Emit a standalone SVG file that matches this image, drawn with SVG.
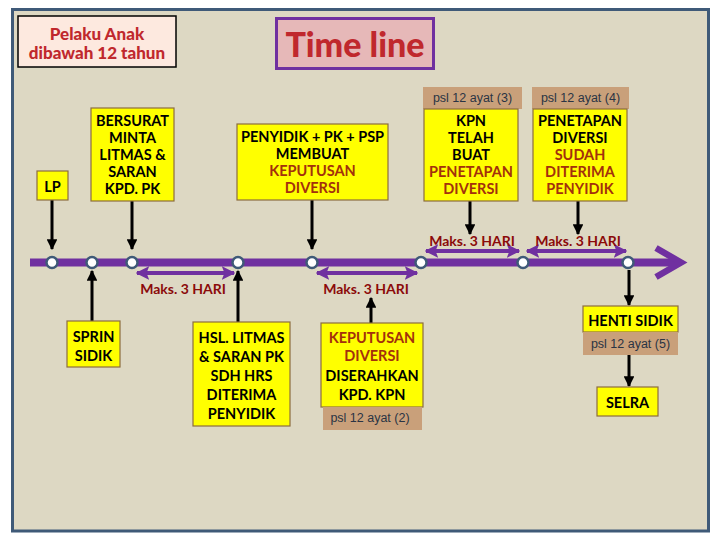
<svg xmlns="http://www.w3.org/2000/svg" width="720" height="540" viewBox="0 0 720 540">
<defs>
<style>
.box{fill:#ffff00;stroke:#8c6d3f;stroke-width:1.2}
.tan{fill:#c9a07a}
.t{font-family:Lato,"Liberation Sans",sans-serif;font-weight:bold;font-size:14.5px;text-anchor:middle;dominant-baseline:central;fill:#000}
.r{fill:#a3300c}
.psl{font-family:"Liberation Sans",Arial,sans-serif;font-size:12.5px;text-anchor:middle;dominant-baseline:central;fill:#2a3444}
.maks{font-family:Lato,"Liberation Sans",sans-serif;font-weight:bold;font-size:14px;text-anchor:middle;dominant-baseline:central;fill:#8b0a0a}
.blk{stroke:#000;stroke-width:3;fill:none;marker-end:url(#ah)}
.pur{stroke:#7030a0;stroke-width:4;fill:none;marker-start:url(#pa);marker-end:url(#pa)}
.dot{fill:#fff;stroke:#3f5a78;stroke-width:2.5}
.ttl{font-family:Lato,"Liberation Sans",sans-serif;font-weight:900;text-anchor:middle;fill:#c0282d}
</style>
<marker id="ah" viewBox="0 0 10 10" refX="9" refY="5" markerWidth="3.6" markerHeight="3.6" orient="auto" markerUnits="strokeWidth">
<path d="M0,0 L10,5 L0,10 z" fill="#000"/>
</marker>
<marker id="pa" viewBox="0 0 10 10" refX="9" refY="5" markerWidth="3.4" markerHeight="3.4" orient="auto-start-reverse" markerUnits="strokeWidth">
<path d="M0,0 L10,5 L0,10 L2,5 z" fill="#7030a0"/>
</marker>
</defs>
<rect x="0" y="0" width="720" height="540" fill="#fff"/>
<rect x="12.5" y="9.5" width="696" height="521.5" fill="#ddd8c3" stroke="#3f5a78" stroke-width="3"/>

<g id="title-pelaku">
<rect x="18" y="16" width="158" height="51" fill="#fde9df" stroke="#000" stroke-width="1.5"/>
<text class="ttl" x="97" y="40" font-size="17">Pelaku Anak</text>
<text class="ttl" x="97" y="59" font-size="17">dibawah 12 tahun</text>
</g>

<g id="title-timeline">
<rect x="276.5" y="18.5" width="157" height="50" fill="#e6b8b8" stroke="#7030a0" stroke-width="3"/>
<text class="ttl" x="355" y="57" font-size="34">Time line</text>
</g>

<g id="connectors">
<line x1="30" y1="262.5" x2="678" y2="262.5" stroke="#7030a0" stroke-width="8"/>
<polyline points="656,248 681,262.5 656,277" fill="none" stroke="#7030a0" stroke-width="6.5" stroke-linejoin="miter"/>
<line class="pur" x1="137" y1="273" x2="234" y2="273"/>
<line class="pur" x1="317" y1="273" x2="417" y2="273"/>
<line class="pur" x1="426" y1="251" x2="519" y2="251"/>
<line class="pur" x1="527" y1="251" x2="626" y2="251"/>
<line class="blk" x1="52" y1="200" x2="52" y2="249"/>
<line class="blk" x1="132" y1="201" x2="132" y2="249"/>
<line class="blk" x1="312" y1="200" x2="312" y2="249"/>
<line class="blk" x1="470" y1="201" x2="470" y2="234"/>
<line class="blk" x1="578" y1="201" x2="578" y2="234"/>
<line class="blk" x1="92" y1="321" x2="92" y2="271"/>
<line class="blk" x1="238" y1="322" x2="238" y2="271"/>
<line class="blk" x1="371" y1="323" x2="371" y2="298"/>
<line class="blk" x1="629" y1="270" x2="629" y2="305"/>
<line class="blk" x1="629" y1="355" x2="629" y2="386"/>
<circle class="dot" cx="52" cy="262.5" r="5.5"/>
<circle class="dot" cx="92" cy="262.5" r="5.5"/>
<circle class="dot" cx="132" cy="262.5" r="5.5"/>
<circle class="dot" cx="238" cy="262.5" r="5.5"/>
<circle class="dot" cx="312" cy="262.5" r="5.5"/>
<circle class="dot" cx="421" cy="262.5" r="5.5"/>
<circle class="dot" cx="523" cy="262.5" r="5.5"/>
<circle class="dot" cx="628" cy="262.5" r="5.5"/>
<text class="maks" x="183" y="288">Maks. 3 HARI</text>
<text class="maks" x="366" y="288">Maks. 3 HARI</text>
<text class="maks" x="472" y="240">Maks. 3 HARI</text>
<text class="maks" x="578" y="240">Maks. 3 HARI</text>
</g>

<g id="lp">
<rect class="box" x="37" y="171" width="31" height="29"/>
<text class="t" x="52.5" y="186">LP</text>
</g>

<g id="bersurat">
<rect class="box" x="91" y="108" width="83" height="93"/>
<text class="t" x="132.5" y="120">BERSURAT</text>
<text class="t" x="132.5" y="137">MINTA</text>
<text class="t" x="132.5" y="154">LITMAS &amp;</text>
<text class="t" x="132.5" y="171">SARAN</text>
<text class="t" x="132.5" y="188">KPD. PK</text>
</g>

<g id="penyidik-pk-psp">
<rect class="box" x="237" y="124" width="151" height="76"/>
<text class="t" x="312.5" y="136">PENYIDIK + PK + PSP</text>
<text class="t" x="312.5" y="153">MEMBUAT</text>
<text class="t r" x="312.5" y="170">KEPUTUSAN</text>
<text class="t r" x="312.5" y="187">DIVERSI</text>
</g>

<g id="kpn-penetapan">
<rect class="tan" x="423" y="87" width="99" height="22"/>
<text class="psl" x="472.5" y="98">psl 12 ayat (3)</text>
<rect class="box" x="424" y="109" width="94" height="92"/>
<text class="t" x="471" y="120">KPN</text>
<text class="t" x="471" y="137">TELAH</text>
<text class="t" x="471" y="154">BUAT</text>
<text class="t r" x="471" y="171">PENETAPAN</text>
<text class="t r" x="471" y="188">DIVERSI</text>
</g>

<g id="penetapan-diterima">
<rect class="tan" x="532" y="87" width="97" height="22"/>
<text class="psl" x="580.5" y="98">psl 12 ayat (4)</text>
<rect class="box" x="533" y="109" width="94" height="92"/>
<text class="t" x="580" y="120">PENETAPAN</text>
<text class="t" x="580" y="137">DIVERSI</text>
<text class="t r" x="580" y="154">SUDAH</text>
<text class="t r" x="580" y="171">DITERIMA</text>
<text class="t r" x="580" y="188">PENYIDIK</text>
</g>

<g id="sprin-sidik">
<rect class="box" x="67" y="321" width="53" height="46"/>
<text class="t" x="93.5" y="336">SPRIN</text>
<text class="t" x="93.5" y="355">SIDIK</text>
</g>

<g id="hsl-litmas">
<rect class="box" x="193" y="322" width="97" height="104"/>
<text class="t" x="241.5" y="337">HSL. LITMAS</text>
<text class="t" x="241.5" y="356">&amp; SARAN PK</text>
<text class="t" x="241.5" y="375">SDH HRS</text>
<text class="t" x="241.5" y="394">DITERIMA</text>
<text class="t" x="241.5" y="413">PENYIDIK</text>
</g>

<g id="keputusan-diserahkan">
<rect class="box" x="321" y="323" width="102" height="84"/>
<text class="t r" x="372" y="337">KEPUTUSAN</text>
<text class="t r" x="372" y="355">DIVERSI</text>
<text class="t" x="372" y="375">DISERAHKAN</text>
<text class="t" x="372" y="394">KPD. KPN</text>
<rect class="tan" x="323" y="407" width="99" height="23"/>
<text class="psl" x="370" y="418">psl 12 ayat (2)</text>
</g>

<g id="henti-sidik">
<rect class="box" x="583" y="306" width="95" height="26"/>
<text class="t" x="630.5" y="320">HENTI SIDIK</text>
<rect class="tan" x="583" y="332" width="95" height="23"/>
<text class="psl" x="630.5" y="344">psl 12 ayat (5)</text>
</g>

<g id="selra">
<rect class="box" x="597" y="387" width="61" height="29"/>
<text class="t" x="627.5" y="402" font-size="15.5">SELRA</text>
</g>
</svg>
